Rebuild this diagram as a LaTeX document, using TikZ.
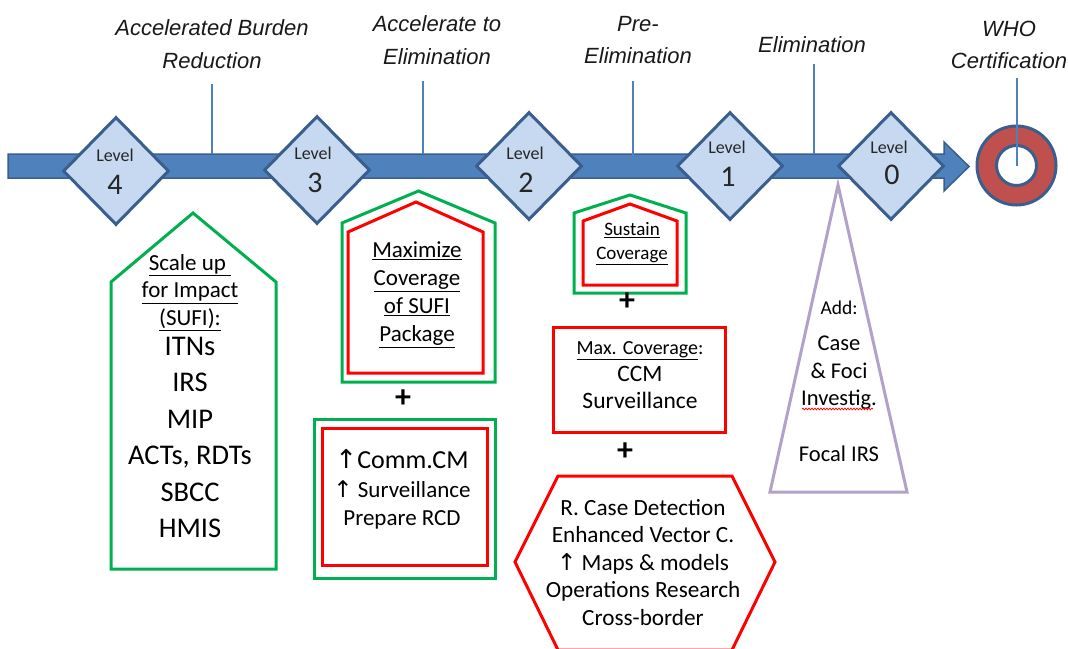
\documentclass[tikz,border=0pt]{standalone}
\usepackage{fontspec}
\setmainfont{Carlito}
\newfontfamily\titlefont{Liberation Sans}
\newfontfamily\symfont{DejaVu Sans}
\usetikzlibrary{shapes.geometric,decorations.pathmorphing}
\definecolor{shaftblue}{HTML}{4F81BD}
\definecolor{edgeblue}{HTML}{3A5F8E}
\definecolor{diafill}{HTML}{C6D9F1}
\definecolor{ringred}{HTML}{C0504D}
\definecolor{boxgreen}{HTML}{00B050}
\definecolor{boxred}{HTML}{FF0000}
\definecolor{lav}{HTML}{B3A2C7}
\tikzset{
  greenline/.style={draw=boxgreen, line width=3pt},
  redline/.style={draw=boxred, line width=3pt},
  lavline/.style={draw=lav, line width=3pt},
  vline/.style={draw=shaftblue, line width=2pt},
  lvl/.style={diamond, draw=edgeblue, fill=diafill, line width=3pt, minimum width=106pt, minimum height=108pt, inner sep=0pt},
  title/.style={font=\titlefont\itshape\fontsize{22}{32.5}\selectfont, align=center, inner sep=0pt, text=black!90},
  body/.style={align=center, inner sep=0pt, text=black},
  plus/.style={font=\bfseries\fontsize{32}{32}\selectfont, inner sep=0pt},
  lvltxt/.style={font=\fontsize{18}{18}\selectfont, inner sep=0pt, text=black!85},
  lvlnum/.style={font=\fontsize{30}{30}\selectfont, inner sep=0pt, text=black!85},
}
\newcommand{\upar}{{\symfont ↑}}
\newcommand{\sm}{\fontsize{23}{28}\selectfont}
\begin{document}
\begin{tikzpicture}[x=1pt,y=-1pt]
\useasboundingbox (0,0) rectangle (1068,648);
\fill[white] (0,0) rectangle (1068,648);

% shaft arrow
\draw[fill=shaftblue, draw=edgeblue, line width=1.5pt, line join=miter]
  (8,154) -- (944,154) -- (944,142) -- (969,166.5) -- (944,191) -- (944,178) -- (8,178) -- cycle;

% ring
\node[circle, draw=edgeblue, fill=ringred, line width=3pt, minimum size=79pt, inner sep=0pt] (ring) at (1016.5,165.5) {};
\node[circle, draw=edgeblue, fill=white, line width=3pt, minimum size=40pt, inner sep=0pt] (hole) at (ring.center) {};

% diamonds
\node[lvl] (d4) at (116,171) {};
\node[lvl] (d3) at (317,170) {};
\node[lvl] (d2) at (529,166) {};
\node[lvl] (d1) at (730,166) {};
\node[lvl] (d0) at (891,166) {};
\node[lvltxt] (d4a) at (115,155) {Level};
\node[lvlnum] (d4b) at (115,185) {4};
\node[lvltxt] (d3a) at (313,153) {Level};
\node[lvlnum] (d3b) at (315,183) {3};
\node[lvltxt] (d2a) at (525,153) {Level};
\node[lvlnum] (d2b) at (526,183) {2};
\node[lvltxt] (d1a) at (727,147) {Level};
\node[lvlnum] (d1b) at (728,177) {1};
\node[lvltxt] (d0a) at (889,147) {Level};
\node[lvlnum] (d0b) at (892,175) {0};

% titles
\node[title] (t1) at (212,44) {Accelerated Burden\\Reduction};
\node[title] (t2) at (437,40) {Accelerate to\\Elimination};
\node[title] (t3) at (638,40) {Pre-\\Elimination};
\node[title] (t4) at (812,45) {Elimination};
\node[title] (t5) at (1009,45) {WHO\\Certification};

% vertical connectors
\coordinate (v1t) at (212,84);   \coordinate (v1b) at (212,154);
\coordinate (v2t) at (423,81);   \coordinate (v2b) at (423,154);
\coordinate (v3t) at (633,81);   \coordinate (v3b) at (633,165);
\coordinate (v4t) at (814,64);   \coordinate (v4b) at (814,154);
\coordinate (v5t) at (1016.5,78);
\draw[vline] (v1t) -- (v1b);
\draw[vline] (v2t) -- (v2b);
\draw[vline] (v3t) -- (v3b);
\draw[vline] (v4t) -- (v4b);
\draw[vline] (v5t) -- (hole.center);

% SUFI house
\draw[greenline] (111,569) -- (111,282) -- (193,213) -- (276,282) -- (276,569) -- cycle;
\node[body, font=\fontsize{28.5}{36.5}\selectfont] (sufi) at (190,396) {\sm\underline{Scale up }\\[-9pt] \sm\underline{for Impact}\\[-9pt] \sm\underline{(SUFI):}\\[-6.5pt]
  ITNs\\ IRS\\ MIP\\ ACTs, RDTs\\ SBCC\\ HMIS};

% Maximize house
\draw[greenline] (342,382) -- (342,223) -- (418.5,191) -- (495,223) -- (495,382) -- cycle;
\draw[redline] (348,373) -- (348,232) -- (416,202) -- (483,232) -- (483,373) -- cycle;
\node[body, font=\sm] (maxim) at (417,295) {\underline{Maximize}\\ \underline{Coverage}\\ \underline{of SUFI}\\ \underline{Package}};

\node[plus] (p1) at (403,399) {+};

% Comm.CM box
\draw[greenline] (314,419) rectangle (495,578);
\draw[redline] (322,428) rectangle (487,565);
\node[body, font=\fontsize{23}{29}\selectfont] (comm) at (402,489.5) {\fontsize{26}{30}\selectfont\upar Comm.CM\\ \upar\ Surveillance\\[-1pt] Prepare RCD};

% Sustain house
\draw[greenline] (574,293) -- (574,213) -- (630,195) -- (686,213) -- (686,293) -- cycle;
\draw[redline] (583,285) -- (583,221) -- (630,204) -- (677,221) -- (677,285) -- cycle;
\node[body, font=\fontsize{19}{24}\selectfont] (sust) at (632,243.5) {\underline{Sustain}\\ \underline{Coverage}};

\node[plus] (p2) at (627,302) {+};

% Max coverage box
\draw[redline] (553,327) rectangle (725,432);
\node[body, font=\fontsize{23.5}{27}\selectfont] (maxcov) at (640,375) {\fontsize{20}{24}\selectfont\underline{Max. Coverage}:\\[-0.5pt] CCM\\ Surveillance};

\node[plus] (p3) at (625,452) {+};

% hexagon
\draw[redline] (558,476) -- (732,476) -- (775,562) -- (732,650) -- (558,650) -- (515,562) -- cycle;
\node[body, font=\fontsize{23.2}{27.5}\selectfont] (hex) at (643,562.5) {R. Case Detection\\ Enhanced Vector C.\\ \upar\ Maps \& models\\ Operations Research\\ Cross-border};

% triangle
\draw[lavline, line join=miter] (838,185) -- (907,492) -- (770,492) -- cycle;
\node[body, font=\fontsize{22.5}{27.5}\selectfont] (tri) at (839,381) {\fontsize{19.5}{24}\selectfont Add:\\[9pt] Case\\ \& Foci\\ Investig.\\[28pt] Focal IRS};
\coordinate (sqa) at (802,409);
\coordinate (sqb) at (873,409);
\draw[boxred, line width=0.7pt, decorate, decoration={snake, amplitude=0.9pt, segment length=3pt}] (sqa) -- (sqb);
\end{tikzpicture}
\end{document}
